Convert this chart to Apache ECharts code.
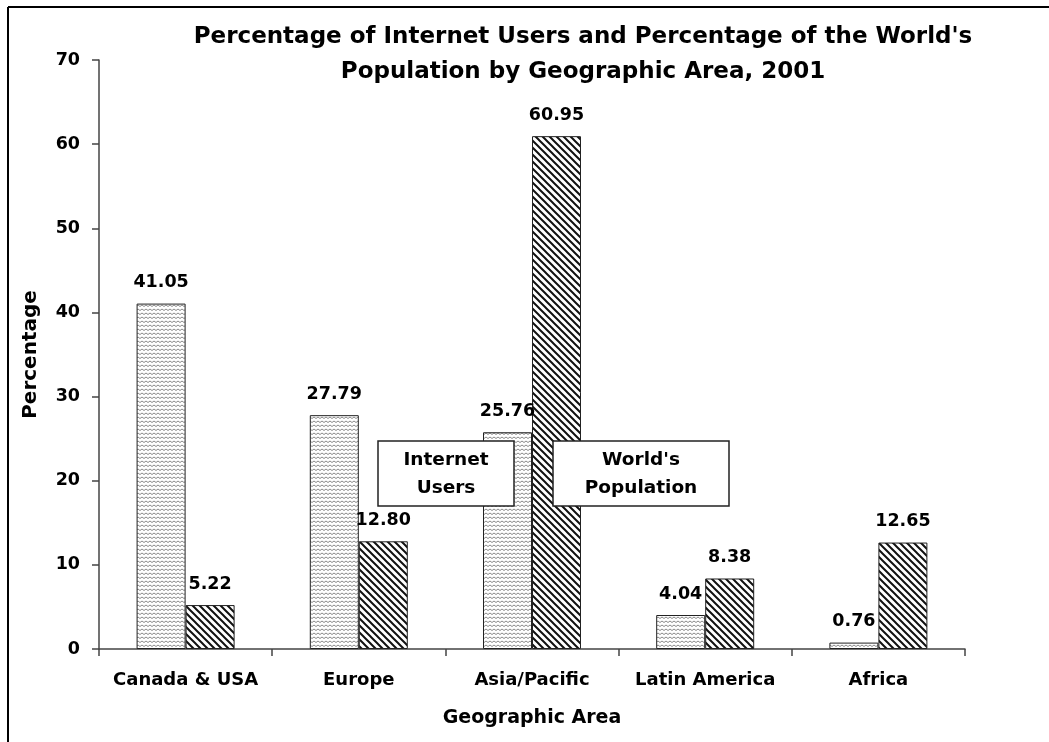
<!DOCTYPE html>
<html>
<head>
<meta charset="utf-8">
<script src="https://cdn.jsdelivr.net/npm/echarts@6/dist/echarts.min.js"></script>
<style>
html,body{margin:0;padding:0;background:#fff;}
#chart{width:1049px;height:742px;}
</style>
</head>
<body>
<div id="chart"></div>
<script>
const categories = ['Canada & USA', 'Europe', 'Asia/Pacific', 'Latin America', 'Africa'];
const internetUsers = [41.05, 27.79, 25.76, 4.04, 0.76];
const worldPopulation = [5.22, 12.80, 60.95, 8.38, 12.65];
const yTicks = [0, 10, 20, 30, 40, 50, 60, 70];
const seriesNames = ['Internet\nUsers', "World's\nPopulation"];
const titleLines = ["Percentage of Internet Users and Percentage of the World's", 'Population by Geographic Area, 2001'];

function wavePattern() {
  const c = document.createElement('canvas');
  c.width = 8; c.height = 4;
  const g = c.getContext('2d');
  g.fillStyle = '#ffffff'; g.fillRect(0, 0, 8, 4);
  g.strokeStyle = '#8a8a8a'; g.lineWidth = 1;
  g.beginPath();
  g.moveTo(0, 2.5); g.lineTo(2, 1); g.lineTo(4, 2.5); g.lineTo(6, 1); g.lineTo(8, 2.5);
  g.stroke();
  return c;
}
function diagPattern() {
  const s = 7;
  const c = document.createElement('canvas');
  c.width = s; c.height = s;
  const g = c.getContext('2d');
  g.fillStyle = '#ffffff'; g.fillRect(0, 0, s, s);
  g.strokeStyle = '#111'; g.lineWidth = 2;
  g.beginPath();
  g.moveTo(-2, -2); g.lineTo(s + 2, s + 2);
  g.moveTo(-2, s - 2); g.lineTo(2, s + 2);
  g.moveTo(s - 2, -2); g.lineTo(s + 2, 2);
  g.stroke();
  return c;
}

const chart = echarts.init(document.getElementById('chart'), null, {renderer: 'canvas'});
const font = 'DejaVu Sans, Liberation Sans, sans-serif';
const labelCfg = {
  show: true, position: 'top', distance: 12,
  fontFamily: font, fontWeight: 'bold', fontSize: 17.5, color: '#000',
  formatter: p => p.value.toFixed(2)
};
chart.setOption({
  animation: false,
  backgroundColor: '#fff',
  grid: {left: 99, right: 84, top: 60, bottom: 93},
  xAxis: {
    type: 'category', data: categories,
    name: 'Geographic Area', nameLocation: 'middle', nameGap: 60,
    nameTextStyle: {fontFamily: font, fontWeight: 'bold', fontSize: 19, color: '#000'},
    axisLine: {lineStyle: {color: '#444', width: 1.5}},
    axisTick: {show: true, interval: 0, length: 7, lineStyle: {color: '#444', width: 1.5}},
    axisLabel: {interval: 0, fontFamily: font, fontWeight: 'bold', fontSize: 18, color: '#000', margin: 22}
  },
  yAxis: {
    type: 'value', min: yTicks[0], max: yTicks[yTicks.length - 1], interval: 10,
    name: 'Percentage', nameLocation: 'middle', nameGap: 58, nameRotate: 90,
    nameTextStyle: {fontFamily: font, fontWeight: 'bold', fontSize: 20, color: '#000'},
    axisLine: {show: true, lineStyle: {color: '#444', width: 1.5}},
    axisTick: {show: true, length: 7, lineStyle: {color: '#444', width: 1.5}},
    splitLine: {show: false},
    axisLabel: {fontFamily: font, fontWeight: 'bold', fontSize: 17.5, color: '#000', margin: 19}
  },
  series: [
    {
      name: 'Internet Users', type: 'bar', data: internetUsers, barWidth: 49, barGap: '0%',
      itemStyle: {color: {image: wavePattern(), repeat: 'repeat'}, borderColor: '#222', borderWidth: 1},
      label: labelCfg
    },
    {
      name: "World's Population", type: 'bar', data: worldPopulation, barWidth: 49, barGap: '0%',
      itemStyle: {color: {image: diagPattern(), repeat: 'repeat'}, borderColor: '#222', borderWidth: 1},
      label: labelCfg
    }
  ],
  graphic: [
    {type: 'line', shape: {x1: 8, y1: 7, x2: 1049, y2: 7}, style: {stroke: '#000', lineWidth: 2}},
    {type: 'line', shape: {x1: 8, y1: 7, x2: 8, y2: 742}, style: {stroke: '#000', lineWidth: 2}},
    {type: 'text', x: 583, y: 37, style: {text: titleLines[0], fontFamily: font, fontWeight: 'bold', fontSize: 23, fill: '#000', align: 'center', verticalAlign: 'middle'}},
    {type: 'text', x: 583, y: 72, style: {text: titleLines[1], fontFamily: font, fontWeight: 'bold', fontSize: 23, fill: '#000', align: 'center', verticalAlign: 'middle'}},
    {type: 'rect', z: 100, shape: {x: 378, y: 441, width: 136, height: 65}, style: {fill: '#fff', stroke: '#222', lineWidth: 1.5}},
    {type: 'text', z: 101, x: 446, y: 474, style: {text: seriesNames[0], fontFamily: font, fontWeight: 'bold', fontSize: 18.5, lineHeight: 28, fill: '#000', align: 'center', verticalAlign: 'middle'}},
    {type: 'rect', z: 100, shape: {x: 553, y: 441, width: 176, height: 65}, style: {fill: '#fff', stroke: '#222', lineWidth: 1.5}},
    {type: 'text', z: 101, x: 641, y: 474, style: {text: seriesNames[1], fontFamily: font, fontWeight: 'bold', fontSize: 18.5, lineHeight: 28, fill: '#000', align: 'center', verticalAlign: 'middle'}}
  ]
});
</script>
</body>
</html>
